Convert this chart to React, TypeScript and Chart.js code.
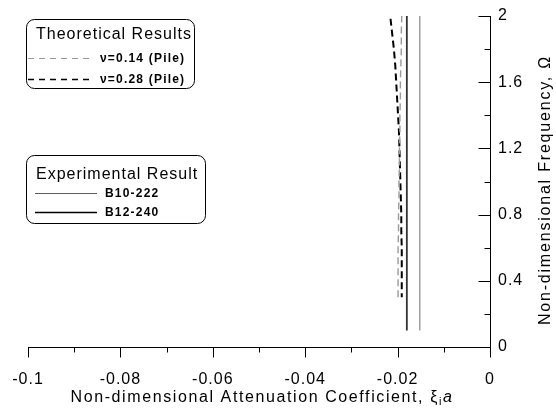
import React, { useEffect, useRef } from "react";
import { Chart, registerables } from "chart.js";

Chart.register(...registerables);

// ---- data ----
const omegaTheory = [0.3, 0.4, 0.5, 0.6, 0.7, 0.8, 0.9, 1.0, 1.1, 1.2, 1.3, 1.4, 1.5, 1.6, 1.7, 1.8, 1.9, 2.0];
const xiNu014 = [-0.0199, -0.0199, -0.0199, -0.0199, -0.0198, -0.0198, -0.0197, -0.0197, -0.0196, -0.0196, -0.0195, -0.0195, -0.0194, -0.0194, -0.0193, -0.0192, -0.0192, -0.0191];
const xiNu028 = [-0.0191, -0.0191, -0.0191, -0.0191, -0.0192, -0.0192, -0.0193, -0.0194, -0.0195, -0.0196, -0.0197, -0.0199, -0.0201, -0.0203, -0.0205, -0.0208, -0.0212, -0.0216];
const omegaExp = [0.1, 2.0];
const xiB10 = [-0.0152, -0.0152];
const xiB12 = [-0.018, -0.018];

const xMajorTicks = [-0.1, -0.08, -0.06, -0.04, -0.02, 0];
const xMinorTicks = [-0.09, -0.07, -0.05, -0.03, -0.01];
const yMajorTicks = [0, 0.4, 0.8, 1.2, 1.6, 2];
const yMinorTicks = [0.2, 0.6, 1.0, 1.4, 1.8];

const theoryTitle = "Theoretical Results";
const theoryLabels = ["ν=0.14 (Pile)", "ν=0.28 (Pile)"];
const expTitle = "Experimental Result";
const expLabels = ["B10-222", "B12-240"];
const xTitleMain = "Non-dimensional Attenuation Coefficient, ξ";
const xTitleSub = "i";
const xTitleItalic = "a";
const yTitle = "Non-dimensional Frequency, Ω";

const FONT = '"Liberation Sans", Arial, sans-serif';
const GRAY = "#9a9a9a";

const toPts = (xs: number[], ys: number[]) => xs.map((x, i) => ({ x, y: ys[i] }));

const decor = {
  id: "decor",
  beforeDraw(chart: any) {
    (chart.ctx as any).letterSpacing = "1px";
  },
  afterDraw(chart: any) {
    const ctx = chart.ctx as CanvasRenderingContext2D;
    const xs = chart.scales.x;
    const ys = chart.scales.y;
    const { right, top, bottom } = chart.chartArea;
    ctx.save();
    ctx.strokeStyle = "#000";
    ctx.lineWidth = 1;
    const line = (x1: number, y1: number, x2: number, y2: number) => {
      ctx.beginPath();
      ctx.moveTo(x1, y1);
      ctx.lineTo(x2, y2);
      ctx.stroke();
    };
    const b = Math.round(bottom) + 0.5;
    const r = Math.round(right) + 0.5;
    xMajorTicks.forEach((v) => {
      const p = Math.round(xs.getPixelForValue(v)) + 0.5;
      line(p, b, p, b + 10);
    });
    xMinorTicks.forEach((v) => {
      const p = Math.round(xs.getPixelForValue(v)) + 0.5;
      line(p, b, p, b + 5);
    });
    yMajorTicks.forEach((v) => {
      const p = Math.round(ys.getPixelForValue(v)) + 0.5;
      line(r - 12, p, r, p);
    });
    yMinorTicks.forEach((v) => {
      const p = Math.round(ys.getPixelForValue(v)) + 0.5;
      line(r - 6, p, r, p);
    });

    const sp = (s: string) => ((ctx as any).letterSpacing = s);

    // x title with subscript and italic
    ctx.fillStyle = "#000";
    ctx.textBaseline = "alphabetic";
    ctx.textAlign = "left";
    const mainFont = `16px ${FONT}`;
    const subFont = `11px ${FONT}`;
    const itFont = `italic 16px ${FONT}`;
    sp("1.6px");
    ctx.font = mainFont;
    const w1 = ctx.measureText(xTitleMain).width;
    ctx.font = subFont;
    const w2 = ctx.measureText(xTitleSub).width;
    ctx.font = itFont;
    const w3 = ctx.measureText(xTitleItalic).width;
    const total = w1 + w2 + w3;
    const cx = 262;
    const x0 = cx - total / 2;
    const base = 402;
    ctx.font = mainFont;
    ctx.fillText(xTitleMain, x0, base);
    ctx.font = subFont;
    ctx.fillText(xTitleSub, x0 + w1, base + 3);
    ctx.font = itFont;
    ctx.fillText(xTitleItalic, x0 + w1 + w2, base);

    // y title rotated
    ctx.save();
    ctx.translate(546, 190);
    ctx.rotate(-Math.PI / 2);
    ctx.textAlign = "center";
    ctx.textBaseline = "middle";
    sp("1.8px");
    ctx.font = `16px ${FONT}`;
    ctx.fillText(yTitle, 0, 0);
    ctx.restore();

    // legend boxes
    const box = (x: number, y: number, w: number, h: number) => {
      ctx.beginPath();
      (ctx as any).roundRect(x + 0.5, y + 0.5, w, h, 8);
      ctx.lineWidth = 1;
      ctx.strokeStyle = "#000";
      ctx.stroke();
    };
    // theoretical
    box(26, 19, 168, 69);
    ctx.textAlign = "left";
    ctx.textBaseline = "middle";
    sp("1px");
    ctx.font = `16px ${FONT}`;
    ctx.fillText(theoryTitle, 36, 35);
    sp("1.2px");
    ctx.font = `bold 12px ${FONT}`;
    const itemY1 = [58, 79];
    const themeDash = [
      { color: GRAY, width: 1.2 },
      { color: "#000", width: 1.5 },
    ];
    theoryLabels.forEach((lab, i) => {
      ctx.save();
      ctx.setLineDash([6, 5]);
      ctx.strokeStyle = themeDash[i].color;
      ctx.lineWidth = themeDash[i].width;
      line(28, itemY1[i] + 0.5, 90, itemY1[i] + 0.5);
      ctx.restore();
      ctx.fillStyle = "#000";
      ctx.fillText(lab, 100, itemY1[i] + 1);
    });
    // experimental
    box(26, 155, 179, 68);
    sp("1px");
    ctx.font = `16px ${FONT}`;
    ctx.fillText(expTitle, 36, 175);
    sp("1.2px");
    ctx.font = `bold 12px ${FONT}`;
    const itemY2 = [193, 212];
    const expStyle = [
      { color: "#333", width: 0.8 },
      { color: "#000", width: 1.6 },
    ];
    expLabels.forEach((lab, i) => {
      ctx.save();
      ctx.strokeStyle = expStyle[i].color;
      ctx.lineWidth = expStyle[i].width;
      line(35, itemY2[i] + 0.5, 97, itemY2[i] + 0.5);
      ctx.restore();
      ctx.fillText(lab, 105, itemY2[i] + 1);
    });
    ctx.restore();
    sp("0px");
  },
};

export default function App() {
  const ref = useRef<HTMLCanvasElement>(null);
  useEffect(() => {
    if (!ref.current) return;
    const chart = new Chart(ref.current, {
      type: "scatter",
      data: {
        datasets: [
          {
            label: expLabels[0],
            data: toPts(xiB10, omegaExp),
            showLine: true,
            borderColor: GRAY,
            borderWidth: 1.4,
            pointRadius: 0,
          },
          {
            label: expLabels[1],
            data: toPts(xiB12, omegaExp),
            showLine: true,
            borderColor: "#333",
            borderWidth: 1.8,
            pointRadius: 0,
          },
          {
            label: theoryLabels[0],
            data: toPts(xiNu014, omegaTheory),
            showLine: true,
            borderColor: GRAY,
            borderWidth: 1.4,
            borderDash: [7, 4],
            pointRadius: 0,
          },
          {
            label: theoryLabels[1],
            data: toPts(xiNu028, omegaTheory),
            showLine: true,
            borderColor: "#000",
            borderWidth: 2,
            borderDash: [7, 4],
            borderDashOffset: 3,
            pointRadius: 0,
          },
        ],
      },
      options: {
        responsive: false,
        animation: false,
        layout: { padding: { left: 28, top: 16, right: 0, bottom: 0 } },
        plugins: { legend: { display: false }, tooltip: { enabled: false } },
        scales: {
          x: {
            type: "linear",
            position: "bottom",
            min: -0.1,
            max: 0,
            grid: { display: false, drawTicks: false },
            border: { display: true, color: "#000", width: 1 },
            afterBuildTicks: (s: any) => {
              s.ticks = xMajorTicks.map((v) => ({ value: v }));
            },
            afterFit: (s: any) => {
              s.height = 61;
              s.paddingLeft = 0;
              s.paddingRight = 0;
            },
            ticks: {
              color: "#000",
              font: { size: 16, family: FONT },
              padding: 23,
              maxRotation: 0,
              callback: (v: any) => String(Number(Number(v).toFixed(2))),
            },
          },
          y: {
            type: "linear",
            position: "right",
            min: 0,
            max: 2,
            grid: { display: false, drawTicks: false },
            border: { display: true, color: "#000", width: 1 },
            afterBuildTicks: (s: any) => {
              s.ticks = yMajorTicks.map((v) => ({ value: v }));
            },
            afterFit: (s: any) => {
              s.width = 66;
              s.paddingTop = 0;
              s.paddingBottom = 0;
            },
            ticks: {
              color: "#000",
              font: { size: 16, family: FONT },
              padding: 8,
              callback: (v: any) => String(Number(Number(v).toFixed(1))),
            },
          },
        },
      },
      plugins: [decor],
    });
    return () => chart.destroy();
  }, []);
  return (
    <div style={{ position: "fixed", left: 0, top: 0, width: 556, height: 408, background: "#fff" }}>
      <canvas ref={ref} width={556} height={408} />
    </div>
  );
}
